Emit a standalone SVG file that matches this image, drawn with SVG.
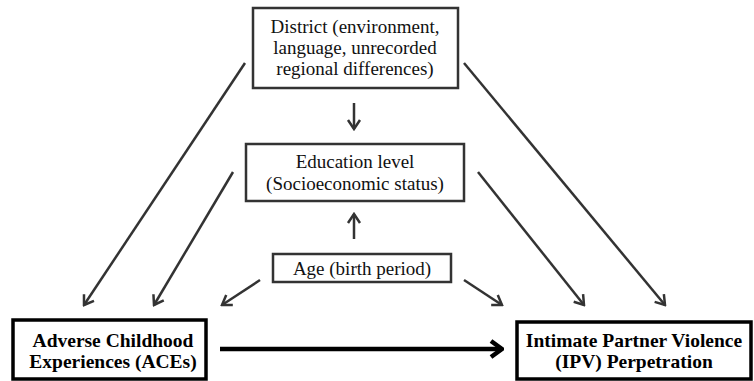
<svg xmlns="http://www.w3.org/2000/svg" width="754" height="381" viewBox="0 0 754 381">
<style>
.box{fill:#fff;stroke:#333;stroke-width:2.5}
.main{fill:#fff;stroke:#000;stroke-width:3.5}
.t{font-family:"Liberation Serif",serif;font-size:19px;fill:#111;text-anchor:middle}
.b{font-family:"Liberation Serif",serif;font-size:19.5px;font-weight:bold;fill:#000;text-anchor:middle}
.c{stroke:#333;stroke-width:2.5;fill:none;marker-end:url(#ah)}
.big{stroke:#000;stroke-width:4.5;fill:none;marker-end:url(#ahb)}
</style>
<defs>
<marker id="ah" markerUnits="userSpaceOnUse" viewBox="-12 -8 14 16" refX="0" refY="0" markerWidth="14" markerHeight="16" orient="auto">
<path d="M-9,-6 L0,0 L-9,6" fill="none" stroke="#333" stroke-width="2.5"/>
</marker>
<marker id="ahb" markerUnits="userSpaceOnUse" viewBox="-14 -10 16 20" refX="0" refY="0" markerWidth="16" markerHeight="20" orient="auto">
<path d="M-11,-8 L0,0 L-11,8" fill="none" stroke="#000" stroke-width="4.5"/>
</marker>
</defs>
<g id="connectors">
<line class="c" x1="245" y1="63" x2="84" y2="305"/>
<line class="c" x1="233" y1="172" x2="154" y2="305"/>
<line class="c" x1="260" y1="280" x2="222" y2="305"/>
<line class="c" x1="464" y1="63" x2="665" y2="305"/>
<line class="c" x1="478" y1="172" x2="584" y2="305"/>
<line class="c" x1="464" y1="280" x2="502" y2="305"/>
<line class="c" x1="354" y1="103" x2="354" y2="129"/>
<line class="c" x1="354" y1="239" x2="354" y2="214"/>
<line class="big" x1="220" y1="349" x2="502" y2="349"/>
</g>
<g id="district">
<rect class="box" x="253" y="8" width="205" height="80"/>
<text class="t" x="355" y="33">District (environment,</text>
<text class="t" x="355" y="54">language, unrecorded</text>
<text class="t" x="355" y="75">regional differences)</text>
</g>
<g id="education">
<rect class="box" x="246" y="144" width="218" height="57"/>
<text class="t" x="355" y="168">Education level</text>
<text class="t" x="355" y="190">(Socioeconomic status)</text>
</g>
<g id="age">
<rect class="box" x="273" y="254" width="178" height="28"/>
<text class="t" x="362" y="275">Age (birth period)</text>
</g>
<g id="aces">
<rect class="main" x="13" y="320" width="193" height="59"/>
<text class="b" x="113" y="347">Adverse Childhood</text>
<text class="b" x="113" y="368">Experiences (ACEs)</text>
</g>
<g id="ipv">
<rect class="main" x="517" y="322" width="234" height="57"/>
<text class="b" x="634" y="347">Intimate Partner Violence</text>
<text class="b" x="634" y="368">(IPV) Perpetration</text>
</g>
</svg>
